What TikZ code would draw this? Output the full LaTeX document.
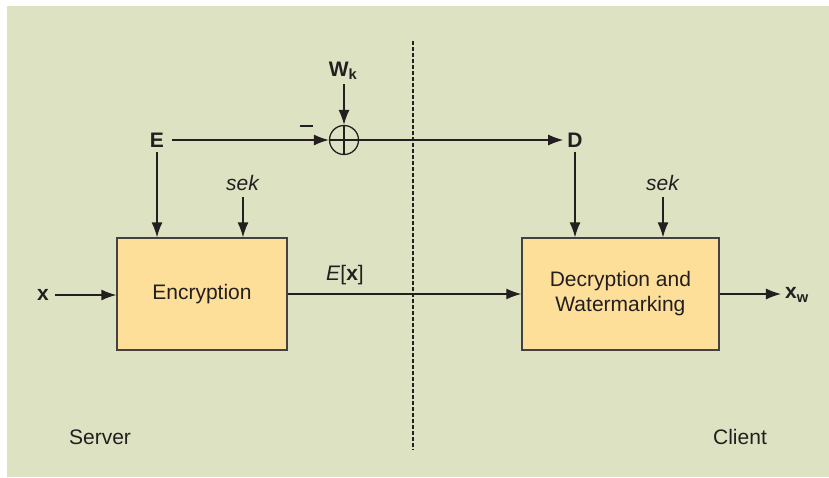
\documentclass[tikz,border=0pt]{standalone}
\usepackage{fontspec}
\setmainfont{Liberation Sans}
\usetikzlibrary{arrows.meta}
\definecolor{panel}{HTML}{DDE3C2}
\definecolor{boxfill}{HTML}{FDDF99}
\definecolor{ink}{HTML}{231F20}
\begin{document}
\begin{tikzpicture}[x=1pt,y=-1pt,
  every node/.style={font=\fontsize{21}{25}\selectfont, text=ink},
  block/.style={draw=ink!85, line width=1.3pt, fill=boxfill, minimum width=170pt, minimum height=112pt, align=center, inner sep=0pt},
  sig/.style={inner sep=0pt},
  flow/.style={draw=ink, line width=1.3pt, -{Latex[length=15pt,width=11pt]}},
  plain/.style={draw=ink, line width=1.3pt}]
  % page and panel
  \useasboundingbox (0,0) rectangle (829,477);
  \fill[panel] (7,6) rectangle (829,477);
  % server / client divider
  \draw[ink, line width=1.1pt, dash pattern=on 4pt off 2pt] (413,41) -- (413,450);

  % processing blocks
  \node[block] (enc) at (202,294) {Encryption};
  \node[block, minimum width=197pt] (dec) at (620.4,294) {Decryption and\\Watermarking};

  % signals
  \node[sig] (x)  at (43,295) {\textbf{x}};
  \node[sig] (xw) at (797,295) {\textbf{x}\textsubscript{\textbf{w}}};
  \node[sig] (E)  at (157,140) {\textbf{E}};
  \node[sig] (D)  at (575,140) {\textbf{D}};
  \node[sig] (Wk) at (343,71) {\textbf{W}\textsubscript{\textbf{k}}};
  \node[sig] (s1) at (243,183) {\textit{sek}};
  \node[sig] (s2) at (663,183) {\textit{sek}};
  \node[sig] (Ex) at (345,275) {\textit{E}[\textbf{x}]};
  \node[sig] (srv) at (100,437) {Server};
  \node[sig] (cli) at (740,437) {Client};

  % key combiner
  \node[draw=ink, line width=1.3pt, circle, minimum size=29pt, inner sep=0pt] (sum) at (344,140) {};
  \draw[plain] (sum.north) -- (sum.south);
  \draw[plain] (sum.west) -- (sum.east);
  \node[sig] (minus) at (306,126) {\rule{13pt}{1.2pt}};

  % connectors
  \draw[flow] (x.east) ++(6,0) coordinate (xs) -- (enc.west |- xs);
  \draw[flow] (E.east) ++(8,0) coordinate (es) -- (sum.west);
  \draw[flow] (Wk.south) ++(1,4) coordinate (ws) -- (sum.north);
  \draw[flow] (sum.east) -- ([xshift=-4pt]D.west);
  \draw[flow] (E.south) ++(0,5) coordinate (ed) -- (enc.north -| ed);
  \draw[flow] (s1.south) ++(0,6) coordinate (sd) -- (enc.north -| sd);
  \draw[flow] (D.south) ++(0,5) coordinate (dd) -- (dec.north -| dd);
  \draw[flow] (s2.south) ++(0,6) coordinate (td) -- (dec.north -| td);
  \draw[flow] (enc.east) -- (dec.west);
  \draw[flow] (dec.east) -- ([xshift=-4pt]xw.west |- dec.east);
\end{tikzpicture}
\end{document}
